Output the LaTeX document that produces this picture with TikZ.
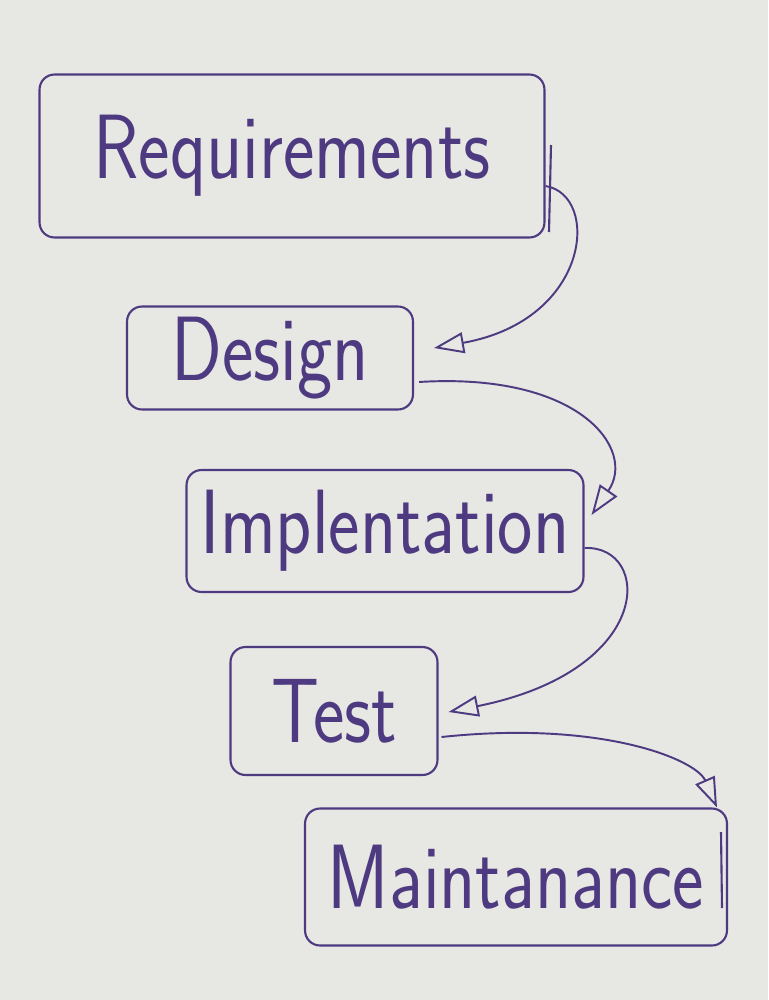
\documentclass[tikz,border=0pt]{standalone}
\usepackage{fontspec}
\usetikzlibrary{arrows.meta,calc}
\definecolor{pen}{RGB}{78,58,128}
\definecolor{paper}{RGB}{231,231,228}
\newcommand{\hand}[1]{\scalebox{0.82}[1]{\sffamily\fontsize{52}{60}\selectfont #1}}
\tikzset{
  phase/.style={draw=pen, text=pen, line width=1.2pt, rounded corners=0.3cm, inner sep=0pt},
  flow/.style={draw=pen, line width=1.1pt, -{Triangle[open, length=0.6cm, width=0.42cm]}},
}
\begin{document}
\begin{tikzpicture}[x=0.02cm, y=-0.02cm]
\fill[paper] (0,0) rectangle (768,1000);
\node[phase, minimum width=10.1cm, minimum height=3.26cm] (req) at (292,156) {\raisebox{-0.2cm}{\hand{Requirements}}};
\node[phase, minimum width=5.72cm, minimum height=2.06cm] (dsg) at (270,358) {\raisebox{-0.25cm}{\hand{Design}}};
\node[phase, minimum width=7.94cm, minimum height=2.44cm] (imp) at (385,531) {\hand{Implentation}};
\node[phase, minimum width=4.14cm, minimum height=2.56cm] (tst) at (334,711) {\hand{Test}};
\node[phase, minimum width=8.44cm, minimum height=2.74cm] (mnt) at (516,877) {\hand{Maintanance}};
\draw[pen, line width=1.2pt] (551,145) -- (549,232);
\draw[pen, line width=1.2pt] (721,832) -- (722,908);
\draw[flow] ($(req.east)+(0,30)$) .. controls +(55,9) and +(157,-28) .. ($(dsg.east)+(20,-10)$);
\draw[flow] ($(dsg.east)+(5,24)$) .. controls +(162,-10) and +(45,-65) .. ($(imp.east)+(7,-16)$);
\draw[flow] ($(imp.east)+(0,17)$) .. controls +(67,-3) and +(208,-42) .. ($(tst.east)+(10,1)$);
\draw[flow] ($(tst.east)+(3,26)$) .. controls +(160,-17) and +(-21,-48) .. ($(mnt.north east)+(-11,0)$);
\end{tikzpicture}
\end{document}
